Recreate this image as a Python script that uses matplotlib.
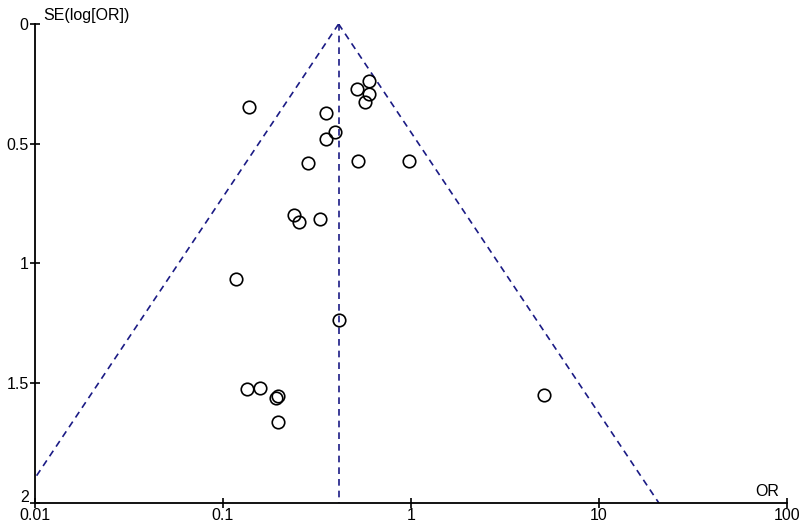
import numpy as np
import matplotlib
matplotlib.use("Agg")
import matplotlib.pyplot as plt
import matplotlib.transforms as mtransforms

plt.rcParams['font.family'] = ['Liberation Sans', 'DejaVu Sans']

# study estimates
odds_ratio = [0.600, 0.517, 0.600, 0.571, 0.137, 0.353, 0.395, 0.352, 0.283, 0.522, 0.973,
              0.239, 0.253, 0.328, 0.117, 0.416, 0.134, 0.157, 0.191, 0.197, 0.195, 5.10]
se_log_or = [0.237, 0.270, 0.292, 0.326, 0.347, 0.371, 0.451, 0.480, 0.582, 0.571, 0.571,
             0.798, 0.829, 0.816, 1.067, 1.237, 1.524, 1.522, 1.564, 1.554, 1.664, 1.550]
pooled_or = 0.412
se_max = 2.0

x_ticks = [0.01, 0.1, 1, 10, 100]
x_tick_labels = ["0.01", "0.1", "1", "10", "100"]
y_ticks = [0, 0.5, 1, 1.5, 2]
y_tick_labels = ["0", "0.5", "1", "1.5", "2"]

fig = plt.figure(figsize=(8.1, 5.26), dpi=100)
ax = fig.add_axes([35 / 810, 1 - 502.7 / 526, (787 - 35) / 810, (502.7 - 24) / 526])

# pseudo 95% confidence limits
se_line = np.array([0, se_max])
line_col = '#1b1b85'
ax.plot(pooled_or * np.exp(-1.96 * se_line), se_line, ls=(0, (4, 3)), color=line_col, lw=1.2)
ax.plot(pooled_or * np.exp(1.96 * se_line), se_line, ls=(0, (4, 3)), color=line_col, lw=1.2)
ax.plot([pooled_or, pooled_or], [0, se_max], ls=(0, (4, 3)), color=line_col, lw=1.2)

ax.plot(odds_ratio, se_log_or, 'o', ms=9, mfc='none', mec='black', mew=1.2, clip_on=False)

ax.set_xscale('log')
ax.set_xlim(0.01, 100)
ax.set_ylim(se_max, 0)
ax.minorticks_off()
ax.set_xticks(x_ticks)
ax.set_xticklabels(x_tick_labels)
ax.set_yticks(y_ticks)
ax.set_yticklabels(y_tick_labels)

for side in ['top', 'right']:
    ax.spines[side].set_visible(False)
for side in ['left', 'bottom']:
    ax.spines[side].set_linewidth(1.3)
    ax.spines[side].set_color('black')
ax.tick_params(direction='inout', length=7, width=1.2, labelsize=11.5, pad=0, colors='black')
ax.tick_params(axis='y', pad=1)

# lift the bottom y label a little so it clears "0.01"
lab = ax.get_yticklabels()[-1]
lab.set_transform(lab.get_transform() + mtransforms.ScaledTranslation(0, 5 / 72, fig.dpi_scale_trans))

ax.annotate("SE(log[OR])", xy=(0, 1), xycoords='axes fraction', xytext=(6, 1),
            textcoords='offset points', fontsize=11.5, ha='left', va='bottom')
ax.annotate("OR", xy=(1, 0), xycoords='axes fraction', xytext=(-6, 3),
            textcoords='offset points', fontsize=11.5, ha='right', va='bottom')

fig.savefig("out.png", dpi=100)
